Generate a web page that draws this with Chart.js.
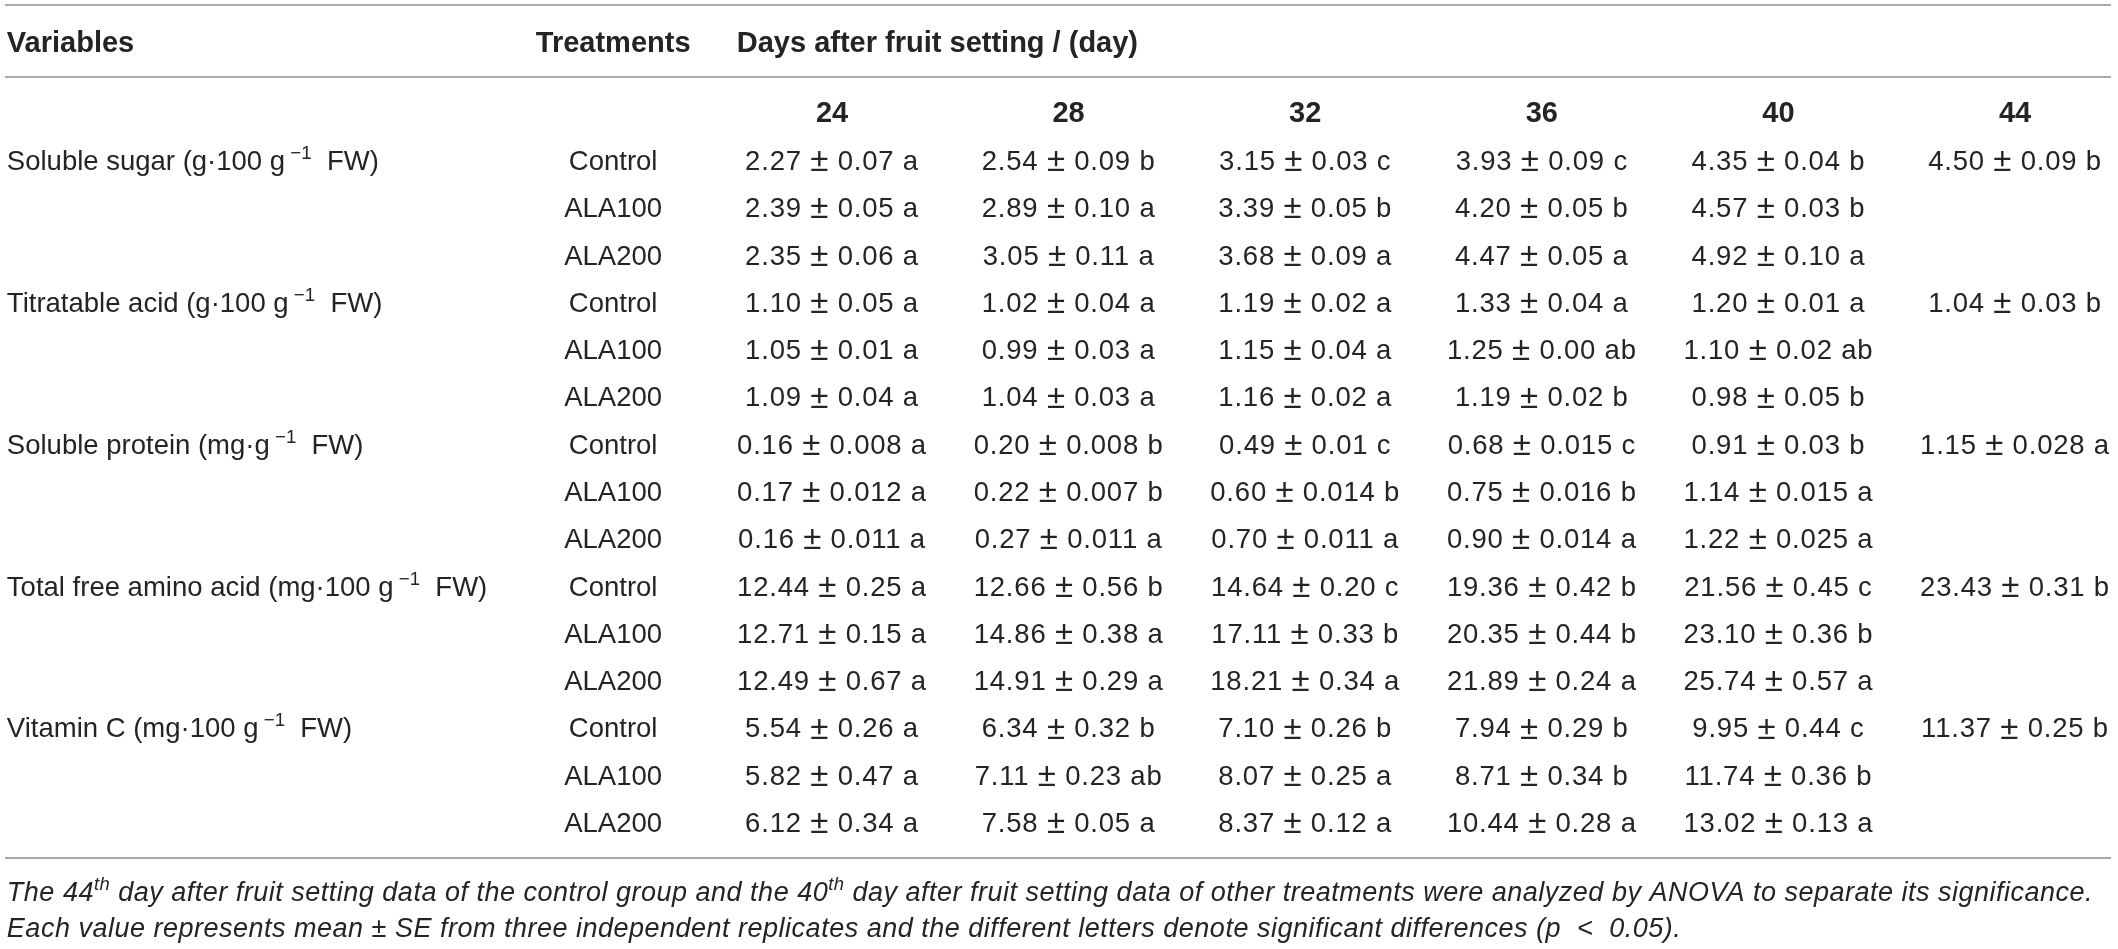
<!DOCTYPE html>
<html>
<head>
<meta charset="utf-8">
<script src="https://cdn.jsdelivr.net/npm/chart.js@4.4.1/dist/chart.umd.min.js"></script>
<style>
html, body { margin: 0; padding: 0; background: #fff; }
#wrap { width: 2118px; height: 949px; position: relative; }
</style>
</head>
<body>
<div id="wrap"><canvas id="myChart"></canvas></div>
<script>
// table data
var days = [24, 28, 32, 36, 40, 44];
var treatments = ['Control', 'ALA100', 'ALA200'];
var variables = ['Soluble sugar', 'Titratable acid', 'Soluble protein', 'Total free amino acid', 'Vitamin C'];
var units = ['g·100 g', 'g·100 g', 'mg·g', 'mg·100 g', 'mg·100 g'];

var sugarMean = [[2.27, 2.54, 3.15, 3.93, 4.35, 4.50], [2.39, 2.89, 3.39, 4.20, 4.57, null], [2.35, 3.05, 3.68, 4.47, 4.92, null]];
var sugarSE = [[0.07, 0.09, 0.03, 0.09, 0.04, 0.09], [0.05, 0.10, 0.05, 0.05, 0.03, null], [0.06, 0.11, 0.09, 0.05, 0.10, null]];
var sugarLetter = [['a', 'b', 'c', 'c', 'b', 'b'], ['a', 'a', 'b', 'b', 'b', null], ['a', 'a', 'a', 'a', 'a', null]];

var acidMean = [[1.10, 1.02, 1.19, 1.33, 1.20, 1.04], [1.05, 0.99, 1.15, 1.25, 1.10, null], [1.09, 1.04, 1.16, 1.19, 0.98, null]];
var acidSE = [[0.05, 0.04, 0.02, 0.04, 0.01, 0.03], [0.01, 0.03, 0.04, 0.00, 0.02, null], [0.04, 0.03, 0.02, 0.02, 0.05, null]];
var acidLetter = [['a', 'a', 'a', 'a', 'a', 'b'], ['a', 'a', 'a', 'ab', 'ab', null], ['a', 'a', 'a', 'b', 'b', null]];

var proteinMean = [[0.16, 0.20, 0.49, 0.68, 0.91, 1.15], [0.17, 0.22, 0.60, 0.75, 1.14, null], [0.16, 0.27, 0.70, 0.90, 1.22, null]];
var proteinSE = [[0.008, 0.008, 0.01, 0.015, 0.03, 0.028], [0.012, 0.007, 0.014, 0.016, 0.015, null], [0.011, 0.011, 0.011, 0.014, 0.025, null]];
var proteinLetter = [['a', 'b', 'c', 'c', 'b', 'a'], ['a', 'b', 'b', 'b', 'a', null], ['a', 'a', 'a', 'a', 'a', null]];

var aminoMean = [[12.44, 12.66, 14.64, 19.36, 21.56, 23.43], [12.71, 14.86, 17.11, 20.35, 23.10, null], [12.49, 14.91, 18.21, 21.89, 25.74, null]];
var aminoSE = [[0.25, 0.56, 0.20, 0.42, 0.45, 0.31], [0.15, 0.38, 0.33, 0.44, 0.36, null], [0.67, 0.29, 0.34, 0.24, 0.57, null]];
var aminoLetter = [['a', 'b', 'c', 'b', 'c', 'b'], ['a', 'a', 'b', 'b', 'b', null], ['a', 'a', 'a', 'a', 'a', null]];

var vitcMean = [[5.54, 6.34, 7.10, 7.94, 9.95, 11.37], [5.82, 7.11, 8.07, 8.71, 11.74, null], [6.12, 7.58, 8.37, 10.44, 13.02, null]];
var vitcSE = [[0.26, 0.32, 0.26, 0.29, 0.44, 0.25], [0.47, 0.23, 0.25, 0.34, 0.36, null], [0.34, 0.05, 0.12, 0.28, 0.13, null]];
var vitcLetter = [['a', 'b', 'b', 'b', 'c', 'b'], ['a', 'ab', 'a', 'b', 'b', null], ['a', 'a', 'a', 'a', 'a', null]];

var groups = [
    [sugarMean, sugarSE, sugarLetter],
    [acidMean, acidSE, acidLetter],
    [proteinMean, proteinSE, proteinLetter],
    [aminoMean, aminoSE, aminoLetter],
    [vitcMean, vitcSE, vitcLetter]
];

// layout, in scale units (x = day, y = row)
var xMin = 9.934, xMax = 45.741;
var yMin = -3.383, yMax = 16.681;
var variableX = 10.05, treatmentX = 20.30, daysTitleX = 22.39;
var headerRow = -2.495, dayRow = -1.015;
var ruleRows = [-3.277, -1.755, 14.757];
var captionRows = [15.455, 16.216];

var FONT = "'Liberation Sans', Arial, sans-serif";
var INK = '#262324';

function fmtSE(v) {
    return Number(v.toFixed(2)) === v ? v.toFixed(2) : v.toFixed(3);
}

var cells = [];
groups.forEach(function(g, v) {
    treatments.forEach(function(t, ti) {
        days.forEach(function(d, di) {
            if (g[0][ti][di] === null) return;
            cells.push({
                x: d,
                y: v * 3 + ti,
                mean: g[0][ti][di].toFixed(2),
                se: fmtSE(g[1][ti][di]),
                letter: g[2][ti][di]
            });
        });
    });
});

function setFont(ctx, style, size) {
    ctx.font = style + ' ' + size + 'px ' + FONT;
}

// segments: {t, sup, big}
function drawRich(ctx, segs, x, y, size, style, align, spacing) {
    var sz = function(s) { return s.sup ? size * 0.68 : (s.big ? size * 1.2 : size); };
    ctx.letterSpacing = (spacing || 0) + 'px';
    var w = 0;
    segs.forEach(function(s) {
        setFont(ctx, style, sz(s));
        s.w = ctx.measureText(s.t).width;
        w += s.w;
    });
    var cx = align === 'center' ? x - w / 2 : x;
    ctx.textAlign = 'left';
    segs.forEach(function(s) {
        setFont(ctx, style, sz(s));
        var yy = y;
        if (s.sup) yy = y - size * 0.40;
        if (s.big) yy = y + size * 0.04;
        ctx.fillText(s.t, cx, yy);
        cx += s.w;
    });
    ctx.letterSpacing = '0px';
}

var tablePlugin = {
    id: 'tableText',
    afterDraw: function(chart) {
        var ctx = chart.ctx;
        var xs = chart.scales.x, ys = chart.scales.y;
        var size = 27.5, bold = 29;
        ctx.save();
        ctx.textBaseline = 'alphabetic';

        // rules
        ctx.fillStyle = '#a9a9a9';
        ruleRows.forEach(function(r) {
            ctx.fillRect(5, Math.round(ys.getPixelForValue(r)) - 1, 2106, 2);
        });

        ctx.fillStyle = INK;
        var base = function(r, s) { return ys.getPixelForValue(r) + s * 0.36; };

        // header
        setFont(ctx, 'bold', bold);
        ctx.textAlign = 'left';
        ctx.fillText('Variables', xs.getPixelForValue(variableX), base(headerRow, bold));
        ctx.textAlign = 'center';
        ctx.fillText('Treatments', xs.getPixelForValue(treatmentX), base(headerRow, bold));
        ctx.textAlign = 'left';
        ctx.fillText('Days after fruit setting / (day)', xs.getPixelForValue(daysTitleX), base(headerRow, bold));
        ctx.textAlign = 'center';
        days.forEach(function(d) {
            ctx.fillText(String(d), xs.getPixelForValue(d), base(dayRow, bold));
        });

        // variable names with units
        variables.forEach(function(name, v) {
            drawRich(ctx, [
                { t: name + ' (' + units[v] },
                { t: ' −1', sup: true },
                { t: '  FW)' }
            ], xs.getPixelForValue(variableX), base(v * 3, size), size, 'normal', 'left');
        });

        // treatments
        setFont(ctx, 'normal', size);
        ctx.textAlign = 'center';
        variables.forEach(function(name, v) {
            treatments.forEach(function(t, ti) {
                ctx.fillText(t, xs.getPixelForValue(treatmentX), base(v * 3 + ti, size));
            });
        });

        // cells, placed by the scatter points
        var meta = chart.getDatasetMeta(0);
        meta.data.forEach(function(pt, i) {
            var c = cells[i];
            drawRich(ctx, [
                { t: c.mean + ' ' },
                { t: '±', big: true },
                { t: ' ' + c.se + ' ' + c.letter }
            ], pt.x, pt.y + size * 0.36, size, 'normal', 'center', 0.8);
        });

        // caption
        var csize = 27;
        drawRich(ctx, [
            { t: 'The 44' }, { t: 'th', sup: true },
            { t: ' day after fruit setting data of the control group and the 40' }, { t: 'th', sup: true },
            { t: ' day after fruit setting data of other treatments were analyzed by ANOVA to separate its significance.' }
        ], xs.getPixelForValue(variableX), base(captionRows[0], csize), csize, 'italic', 'left', 0.5);
        drawRich(ctx, [
            { t: 'Each value represents mean ± SE from three independent replicates and the different letters denote significant differences (p  <  0.05).' }
        ], xs.getPixelForValue(variableX), base(captionRows[1], csize), csize, 'italic', 'left', 0.5);
        ctx.restore();
    }
};

var ctx = document.getElementById('myChart').getContext('2d');
var chart = new Chart(ctx, {
    type: 'scatter',
    data: {
        datasets: [{
            label: 'cells',
            data: cells,
            pointRadius: 0,
            pointHoverRadius: 0
        }]
    },
    options: {
        responsive: true,
        maintainAspectRatio: false,
        animation: false,
        events: [],
        layout: { padding: 0 },
        plugins: { legend: { display: false }, tooltip: { enabled: false } },
        scales: {
            x: { type: 'linear', min: xMin, max: xMax, display: false },
            y: { type: 'linear', min: yMin, max: yMax, reverse: true, display: false }
        }
    },
    plugins: [tablePlugin]
});
</script>
</body>
</html>
